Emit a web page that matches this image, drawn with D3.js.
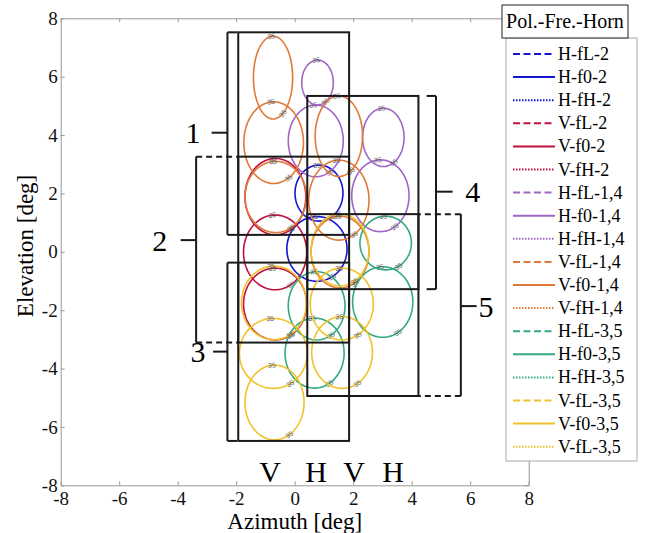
<html>
<head>
<title>Horn beam contours</title>
<script src="https://d3js.org/d3.v7.min.js"></script>
<style>
  body { margin: 0; background: white; }
  .axis path, .axis line { stroke: #999; }
  .axis text { font-family: 'Liberation Serif', 'DejaVu Serif', 'Times New Roman', serif; font-size: 19px; fill: #111; }
  .serif { font-family: 'Liberation Serif', 'DejaVu Serif', 'Times New Roman', serif; }
</style>
</head>
<body>
<div id="container"></div>
<script>
// beams per series: [azimuth centre, elevation centre, half width, half height] in deg
const H_fL_2  = [[0.76, 0.10, 1.03, 1.11]];
const H_f0_2  = [[0.83, 2.01, 0.82, 0.96]];
const H_fH_2  = [];
const V_fL_2  = [[-0.67, -1.79, 1.08, 1.23]];
const V_f0_2  = [[-0.67, -0.02, 1.08, 1.28]];
const V_fH_2  = [[-0.66, 1.89, 1.04, 1.31]];
const H_fL_14 = [[0.72, 3.80, 0.94, 1.23], [2.93, 1.92, 0.98, 1.23]];
const H_f0_14 = [[0.78, 5.80, 0.54, 0.77], [3.03, 3.92, 0.71, 1.00]];
const H_fH_14 = [];
const V_fL_14 = [[-0.65, 1.88, 1.05, 1.22], [1.55, -0.01, 0.99, 1.23]];
const V_f0_14 = [[-0.72, 3.74, 1.02, 1.40], [1.51, 1.77, 1.03, 1.37]];
const V_fH_14 = [[-0.74, 5.97, 0.67, 1.42], [1.51, 3.96, 0.81, 1.38]];
const H_fL_35 = [[0.68, -3.47, 1.01, 1.20], [3.01, -1.72, 1.03, 1.21]];
const H_f0_35 = [[0.75, -1.85, 0.97, 1.17], [3.11, 0.30, 0.88, 0.92]];
const H_fH_35 = [];
const V_fL_35 = [[-0.69, -5.16, 1.01, 1.28], [1.62, -3.45, 1.04, 1.23]];
const V_f0_35 = [[-0.73, -3.48, 1.16, 1.20], [1.61, -1.79, 1.08, 1.23]];
const V_fH_35 = [[-0.71, -1.75, 1.11, 1.26], [1.55, 0.06, 0.99, 1.23]];

const seriesNames = ["H-fL-2", "H-f0-2", "H-fH-2", "V-fL-2", "V-f0-2", "V-fH-2",
  "H-fL-1,4", "H-f0-1,4", "H-fH-1,4", "V-fL-1,4", "V-f0-1,4", "V-fH-1,4",
  "H-fL-3,5", "H-f0-3,5", "H-fH-3,5", "V-fL-3,5", "V-f0-3,5", "V-fL-3,5"];
const seriesBeams = [H_fL_2, H_f0_2, H_fH_2, V_fL_2, V_f0_2, V_fH_2,
  H_fL_14, H_f0_14, H_fH_14, V_fL_14, V_f0_14, V_fH_14,
  H_fL_35, H_f0_35, H_fH_35, V_fL_35, V_f0_35, V_fH_35];
const contourLevel = "35";

// horn boxes [az min, az max, el min, el max]
const hornBoxes = [[-1.93, 1.86, 0.58, 7.52], [-1.93, 1.86, -3.11, 3.26], [-1.93, 1.86, -6.48, -0.37],
  [0.43, 4.23, -1.28, 5.34], [0.43, 4.23, -4.94, 1.29]];

// brackets naming the horns
const braceLabels = ["1", "2", "3", "4", "5"];
const braceX = [-2.30, -3.37, -2.30, 4.83, 5.68];
const braceTop = [7.52, 3.26, -0.37, 5.34, 1.29];
const braceBottom = [0.58, -3.11, -6.48, -1.28, -4.94];
const braceEnd = [-1.97, -1.93, -1.97, 4.51, 4.23];
const braceDashed = [false, true, false, false, true];
const braceNubX = [-2.84, -3.90, -2.79, 5.40, 6.22];
const braceNubY = [4.08, 0.40, -3.42, 2.06, -1.86];
const braceLabelX = [-3.48, -4.61, -3.31, 6.09, 6.54];

const polLabels = ["V", "H", "V", "H"];
const polX = [-0.84, 0.73, 2.03, 3.36];

const ticks = [-8, -6, -4, -2, 0, 2, 4, 6, 8];

// styles
const colors = ["#1414d2", "#c0123e", "#a066c6", "#e07a3a", "#33a982", "#f0c22c"];
function seriesColor(i) { return colors[Math.floor(i / 3)]; }
const legendDash = ["7,3.5", null, "1.5,1.5"];

const W = 651, H = 533;
const svg = d3.select("#container").append("svg")
  .attr("width", W).attr("height", H)
  .style("background", "white");

const x = d3.scaleLinear().domain([-8, 8]).range([60.7, 528.7]);
const y = d3.scaleLinear().domain([-8, 8]).range([485.3, 18.3]);

// axes, ticks inside on all four sides
svg.append("g").attr("class", "axis")
  .attr("transform", "translate(0," + y(-8) + ")")
  .call(d3.axisBottom(x).tickValues(ticks).tickSizeInner(-4).tickSizeOuter(0).tickPadding(6).tickFormat(d => String(d)));
svg.append("g").attr("class", "axis")
  .attr("transform", "translate(0," + y(8) + ")")
  .call(d3.axisTop(x).tickValues(ticks).tickSizeInner(-4).tickSizeOuter(0).tickFormat(""));
svg.append("g").attr("class", "axis")
  .attr("transform", "translate(" + x(-8) + ",0)")
  .call(d3.axisLeft(y).tickValues(ticks).tickSizeInner(-4).tickSizeOuter(0).tickPadding(3).tickFormat(d => String(d)));
svg.append("g").attr("class", "axis")
  .attr("transform", "translate(" + x(8) + ",0)")
  .call(d3.axisRight(y).tickValues(ticks).tickSizeInner(-4).tickSizeOuter(0).tickFormat(""));

svg.append("text").attr("class", "serif")
  .attr("x", x(0)).attr("y", 529)
  .attr("text-anchor", "middle")
  .style("font-size", "23px")
  .text("Azimuth [deg]");
svg.append("text").attr("class", "serif")
  .attr("transform", "translate(33," + y(0.2) + ") rotate(-90)")
  .attr("text-anchor", "middle")
  .style("font-size", "23px")
  .text("Elevation [deg]");

// beam contours
const line = d3.line().curve(d3.curveLinearClosed);
function ellipsePoints(b) {
  return d3.range(0, 72).map(k => {
    const t = k / 72 * 2 * Math.PI;
    return [x(b[0] + b[2] * Math.cos(t)), y(b[1] + b[3] * Math.sin(t))];
  });
}
const labelAngles = [95, -60];
const beamG = svg.append("g");
seriesBeams.forEach((beams, i) => {
  beams.forEach(b => {
    beamG.append("path")
      .attr("d", line(ellipsePoints(b)))
      .attr("fill", "none")
      .attr("stroke", seriesColor(i))
      .attr("stroke-width", 1.6);
    labelAngles.forEach(a => {
      const t = a * Math.PI / 180;
      const px = x(b[0] + b[2] * Math.cos(t)), py = y(b[1] + b[3] * Math.sin(t));
      const dx = -b[2] * Math.sin(t) * (x(1) - x(0));
      const dy = b[3] * Math.cos(t) * (y(1) - y(0));
      let rot = Math.atan2(dy, dx) * 180 / Math.PI;
      if (rot > 90) rot -= 180;
      if (rot < -90) rot += 180;
      beamG.append("text")
        .attr("transform", "translate(" + px + "," + py + ") rotate(" + rot + ")")
        .attr("text-anchor", "middle").attr("dy", "0.35em")
        .style("font-family", "Liberation Sans, sans-serif").style("font-size", "7px")
        .style("fill", "#555")
        .text(contourLevel);
    });
  });
});

// horn boxes
svg.selectAll("rect.horn")
  .data(hornBoxes).enter().append("rect")
  .attr("class", "horn")
  .attr("x", d => x(d[0])).attr("y", d => y(d[3]))
  .attr("width", d => x(d[1]) - x(d[0])).attr("height", d => y(d[2]) - y(d[3]))
  .attr("fill", "none").attr("stroke", "#1a1a1a").attr("stroke-width", 2);

// brackets
braceLabels.forEach((lab, i) => {
  const g = svg.append("g").attr("stroke", "#1a1a1a").attr("stroke-width", 2).attr("fill", "none");
  g.append("line")
    .attr("x1", x(braceX[i])).attr("x2", x(braceX[i]))
    .attr("y1", y(braceTop[i])).attr("y2", y(braceBottom[i]));
  [braceTop[i], braceBottom[i]].forEach(v => {
    g.append("line")
      .attr("x1", x(braceX[i])).attr("x2", x(braceEnd[i]))
      .attr("y1", y(v)).attr("y2", y(v))
      .attr("stroke-dasharray", braceDashed[i] ? "6,4" : null);
  });
  g.append("line")
    .attr("x1", x(braceX[i])).attr("x2", x(braceNubX[i]))
    .attr("y1", y(braceNubY[i])).attr("y2", y(braceNubY[i]));
  svg.append("text").attr("class", "serif")
    .attr("x", x(braceLabelX[i])).attr("y", y(braceNubY[i]))
    .attr("text-anchor", "middle").attr("dy", "0.35em")
    .style("font-size", "30px")
    .text(lab);
});

svg.selectAll("text.pol")
  .data(polLabels).enter().append("text")
  .attr("class", "pol serif")
  .attr("x", (d, i) => x(polX[i])).attr("y", y(-7.9))
  .attr("text-anchor", "middle")
  .style("font-size", "30px")
  .text(d => d);

// legend
const lg = svg.append("g");
lg.append("rect").attr("x", 506).attr("y", 38).attr("width", 131).attr("height", 423)
  .attr("fill", "white").attr("stroke", "#aaa");
lg.append("rect").attr("x", 502).attr("y", 5).attr("width", 126).attr("height", 33)
  .attr("fill", "white").attr("stroke", "#222");
lg.append("text").attr("class", "serif").attr("x", 565).attr("y", 28).attr("text-anchor", "middle")
  .style("font-size", "20px")
  .text("Pol.-Fre.-Horn");
seriesNames.forEach((name, i) => {
  const ly = 54 + i * 23.1;
  lg.append("line").attr("x1", 513).attr("x2", 555).attr("y1", ly).attr("y2", ly)
    .attr("stroke", seriesColor(i)).attr("stroke-width", 2)
    .attr("stroke-dasharray", legendDash[i % 3]);
  lg.append("text").attr("class", "serif").attr("x", 558).attr("y", ly + 6)
    .style("font-size", "18px")
    .text(name);
});
</script>
</body>
</html>
